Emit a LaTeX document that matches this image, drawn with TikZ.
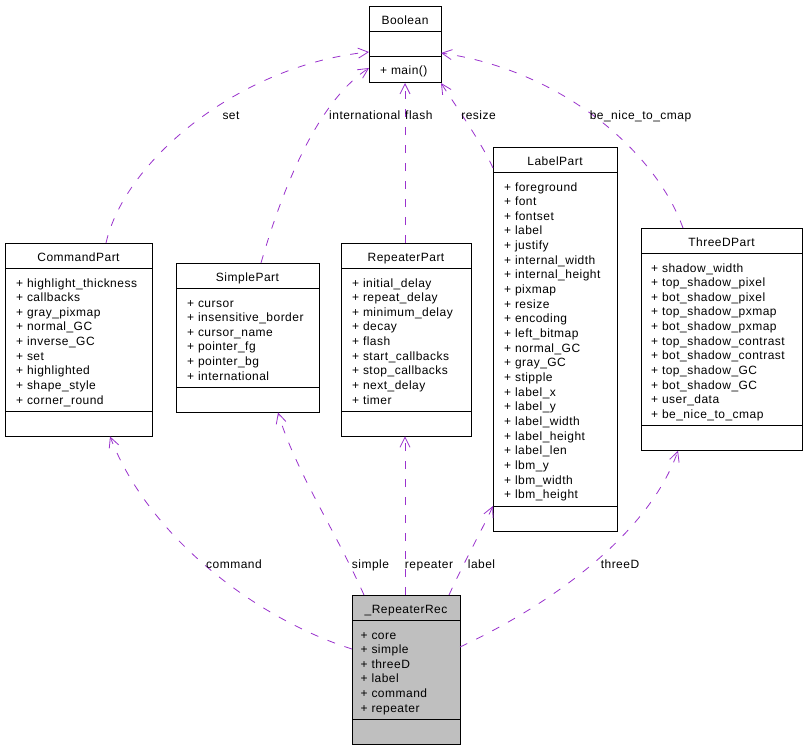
\documentclass[tikz,border=0pt]{standalone}
\usepackage{fontspec}
\setmainfont{Liberation Sans}[LetterSpace=4]
\usetikzlibrary{arrows.meta}
\definecolor{edgec}{RGB}{154,50,205}
\definecolor{recgray}{RGB}{191,191,191}
\tikzset{
 classbox/.style={draw=black, line width=1pt, rectangle, inner sep=0pt, outer sep=0pt},
 sepline/.style={draw=black, line width=1pt},
 boxtext/.style={inner sep=0pt, font=\fontsize{12}{14}\selectfont, anchor=base},
 attrtext/.style={inner sep=0pt, font=\fontsize{12}{14}\selectfont, anchor=base west},
 edge/.style={draw=edgec, line width=0.8pt, dash pattern=on 8pt off 10pt, -{Straight Barb[length=10pt,width=10pt]}},
 elabel/.style={inner sep=0pt, font=\fontsize{12}{14}\selectfont, anchor=base},
}
\newcommand\umlclass[9]{%
 \pgfmathsetmacro\umlsecH{#5*14.66+11.5}%
 \pgfmathsetmacro\umltotH{50+\umlsecH}%
 \node[classbox, fill=#8, minimum width=#4pt, minimum height=\umltotH pt, anchor=north west] (#1) at (#2,#3) {};
 \draw[sepline] ([yshift=-25pt]#1.north west) -- ([yshift=-25pt]#1.north east);
 \draw[sepline] ([yshift=25pt]#1.south west) -- ([yshift=25pt]#1.south east);
 \node[boxtext] (#1-title) at ([yshift=-18pt]#1.north) {#6};
 \foreach \a [count=\i from 0] in {#7} {
   \node[attrtext] (#1-a\i) at ([xshift=#9pt,yshift={-44pt-\i*14.66pt}]#1.north west) {\a};
 }
}
\begin{document}
\begin{tikzpicture}[x=1pt,y=-1pt]
\fill[white] (0,0) rectangle (805,749);
\useasboundingbox (0,0) rectangle (805,749);

% Boolean
\node[classbox, fill=white, minimum width=72pt, minimum height=76pt, anchor=north west] (bool) at (369,7) {};
\draw[sepline] ([yshift=-25pt]bool.north west) -- ([yshift=-25pt]bool.north east);
\draw[sepline] ([yshift=-50pt]bool.north west) -- ([yshift=-50pt]bool.north east);
\node[boxtext] (bool-title) at ([yshift=-18pt]bool.north) {Boolean};
\node[attrtext] (bool-m0) at ([xshift=11pt,yshift=-68pt]bool.north west) {+ main()};

\umlclass{cmd}{5}{243}{147}{9}{CommandPart}{{+ highlight\_thickness},{+ callbacks},{+ gray\_pixmap},{+ normal\_GC},{+ inverse\_GC},{+ set},{+ highlighted},{+ shape\_style},{+ corner\_round}}{white}{11}

\umlclass{simple}{176}{263}{143}{6}{SimplePart}{{+ cursor},{+ insensitive\_border},{+ cursor\_name},{+ pointer\_fg},{+ pointer\_bg},{+ international}}{white}{11}

\umlclass{rep}{341}{243}{130}{9}{RepeaterPart}{{+ initial\_delay},{+ repeat\_delay},{+ minimum\_delay},{+ decay},{+ flash},{+ start\_callbacks},{+ stop\_callbacks},{+ next\_delay},{+ timer}}{white}{11}

\umlclass{lab}{493}{147}{124}{22}{LabelPart}{{+ foreground},{+ font},{+ fontset},{+ label},{+ justify},{+ internal\_width},{+ internal\_height},{+ pixmap},{+ resize},{+ encoding},{+ left\_bitmap},{+ normal\_GC},{+ gray\_GC},{+ stipple},{+ label\_x},{+ label\_y},{+ label\_width},{+ label\_height},{+ label\_len},{+ lbm\_y},{+ lbm\_width},{+ lbm\_height}}{white}{11}

\umlclass{three}{641}{228}{161}{11}{ThreeDPart}{{+ shadow\_width},{+ top\_shadow\_pixel},{+ bot\_shadow\_pixel},{+ top\_shadow\_pxmap},{+ bot\_shadow\_pxmap},{+ top\_shadow\_contrast},{+ bot\_shadow\_contrast},{+ top\_shadow\_GC},{+ bot\_shadow\_GC},{+ user\_data},{+ be\_nice\_to\_cmap}}{white}{10}

\umlclass{rec}{352}{595}{108}{6}{\_RepeaterRec}{{+ core},{+ simple},{+ threeD},{+ label},{+ command},{+ repeater}}{recgray}{8.5}

% edges
\draw[edge] ([yshift=-54pt]rec.north west) .. controls (260,620) and (150,540) .. ([xshift=105pt]cmd.south west);
\draw[edge] ([xshift=12pt]rec.north west) .. controls (335,530) and (295,470) .. ([xshift=102pt]simple.south west);
\draw[edge] ([xshift=53pt]rec.north west) -- ([xshift=64pt]rep.south west);
\draw[edge] ([xshift=97pt]rec.north west) .. controls (465,560) and (482,530) .. ([yshift=25pt]lab.south west);
\draw[edge] ([yshift=-52pt]rec.north east) .. controls (560,600) and (650,530) .. ([xshift=37pt]three.south west);
\draw[edge] ([xshift=101pt]cmd.north west) .. controls (125,160) and (240,65) .. ([yshift=-45pt]bool.north west);
\draw[edge] ([xshift=85pt]simple.north west) .. controls (285,180) and (320,100) .. ([yshift=-61pt]bool.north west);
\draw[edge] ([xshift=64pt]rep.north west) -- (bool.south);
\draw[edge] ([yshift=-21pt]lab.north west) .. controls (480,140) and (455,105) .. (bool.south east);
\draw[edge] ([xshift=42pt]three.north west) .. controls (655,150) and (560,70) .. ([yshift=-46pt]bool.north east);

% edge labels
\node[elabel] (l-set) at (231,120) {set};
\node[elabel, anchor=base west] (l-intl) at (329,120) {international};
\node[elabel, anchor=base west] (l-flash) at (405,120) {flash};
\node[elabel] (l-resize) at (478.5,120) {resize};
\node[elabel] (l-nice) at (640.5,120) {be\_nice\_to\_cmap};
\node[elabel] (l-command) at (234,568) {command};
\node[elabel] (l-simple) at (370.5,568) {simple};
\node[elabel] (l-repeater) at (429,568) {repeater};
\node[elabel] (l-label) at (481.5,568) {label};
\node[elabel] (l-threeD) at (620,568) {threeD};
\end{tikzpicture}
\end{document}
